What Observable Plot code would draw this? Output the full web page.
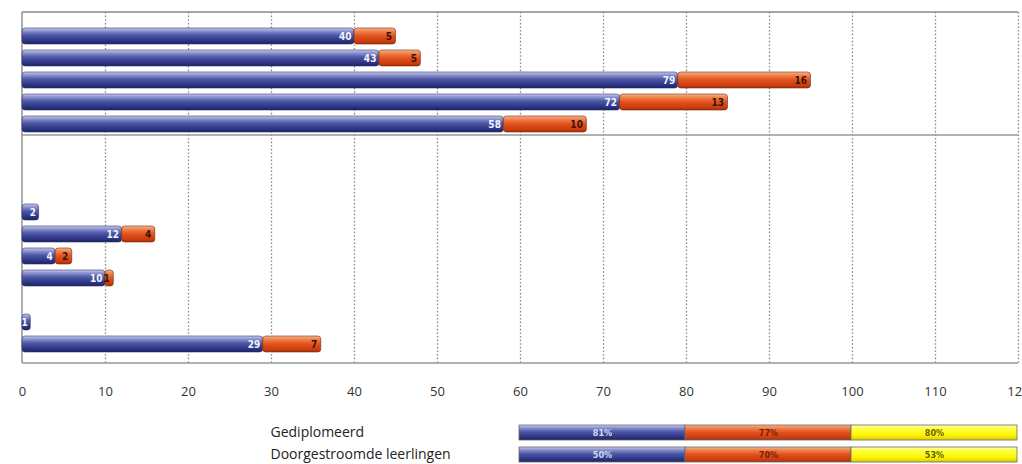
<!DOCTYPE html>
<html><head><meta charset="utf-8">
<script src="https://cdn.jsdelivr.net/npm/d3@7"></script>
<script src="https://cdn.jsdelivr.net/npm/@observablehq/plot@0.6"></script>
<style>
html,body{margin:0;padding:0;background:#fff;overflow:hidden}
#chart{width:1022px}
#chart svg{display:block}
</style></head><body><div id="chart"></div>
<script>
// ---- data ----
const rows = ["r1","r2","r3","r4","r5","r6","r7","r8","r9","r10","r11","r12","r13","r14","r15"];
const seriesBlauw  = [40, 43, 79, 72, 58, null, null, null, 2, 12, 4, 10, null, 1, 29];
const seriesOranje = [5, 5, 16, 13, 10, null, null, null, 0, 4, 2, 1, null, 0, 7];
const dividerAfter = "r5";
const xTicks = [0,10,20,30,40,50,60,70,80,90,100,110,120];

const legendRows = ["Gediplomeerd", "Doorgestroomde leerlingen"];
const legendCols = ["blauw", "oranje", "geel"];
const legendPct = [[81, 77, 80], [50, 70, 53]];

// ---- derived tables ----
const blueRecs = rows.map((r,i)=>({row:r, x1:0, x2:seriesBlauw[i], v:seriesBlauw[i]})).filter(d=>d.v!=null);
const orangeRecs = rows.map((r,i)=>({row:r, x1:seriesBlauw[i], x2:(seriesBlauw[i]||0)+(seriesOranje[i]||0), v:seriesOranje[i]})).filter(d=>d.v);
const legendData = legendRows.flatMap((r,i)=>legendCols.map((c,j)=>({row:r, col:c, pct:legendPct[i][j]})));

function gradDefs(prefix){
  return () => {
    const defs = d3.create("svg:defs");
    const mk = (id, stops) => {
      const g = defs.append("linearGradient").attr("id", prefix+id).attr("x1",0).attr("y1",0).attr("x2",0).attr("y2",1);
      stops.forEach(([o,c])=>g.append("stop").attr("offset",o).attr("stop-color",c));
    };
    mk("blue", [[0,"#c9cdee"],[0.18,"#8d95cf"],[0.45,"#4d57a4"],[0.8,"#2c3584"],[1,"#1c2263"]]);
    mk("orange", [[0,"#f7b68a"],[0.2,"#ef8450"],[0.5,"#e2521c"],[0.85,"#c93c10"],[1,"#a52e0a"]]);
    mk("yellow", [[0,"#ffffb0"],[0.25,"#ffff40"],[0.7,"#fdf500"],[1,"#d8cc00"]]);
    return defs.node();
  };
}

const condensed = "'DejaVu Sans Condensed','Liberation Sans Narrow','DejaVu Sans',sans-serif";

// frame lines and divider drawn from the scales
const frameMark = (index, scales, values, dims) => {
  const g = d3.create("svg:g").attr("fill","none");
  const x0 = scales.x(0), x1 = scales.x(120);
  const top = dims.marginTop, bot = dims.height - dims.marginBottom;
  const y = scales.y;
  const bw = y.bandwidth ? y.bandwidth() : 0;
  const iA = rows.indexOf(dividerAfter);
  const yDiv = (y(rows[iA]) + bw + y(rows[iA+1])) / 2;
  g.append("line").attr("x1",x0).attr("x2",x1).attr("y1",top).attr("y2",top).attr("stroke","#8a8a8a").attr("stroke-width",1.6);
  g.append("line").attr("x1",x0).attr("x2",x1).attr("y1",bot).attr("y2",bot).attr("stroke","#999").attr("stroke-width",1.4);
  g.append("line").attr("x1",x0).attr("x2",x0).attr("y1",top).attr("y2",bot).attr("stroke","#8a8a8a").attr("stroke-width",1.4);
  g.append("line").attr("x1",x0).attr("x2",x1).attr("y1",yDiv).attr("y2",yDiv).attr("stroke","#999").attr("stroke-width",1.4);
  return g.node();
};

const main = Plot.plot({
  width: 1022, height: 402,
  marginLeft: 22, marginRight: 4, marginTop: 12, marginBottom: 39,
  x: {domain: [0,120], ticks: xTicks, tickSize: 0, tickPadding: 23, label: null},
  y: {domain: rows, paddingInner: 0.26, paddingOuter: 0.5, align: 0.6, axis: null},
  style: {fontFamily: "'Open Sans',sans-serif", fontSize: "13px", color: "#333", background: "#fff"},
  marks: [
    gradDefs("m"),
    Plot.ruleX(xTicks.slice(1), {stroke: "#8a8a8a", strokeWidth: 1.3, strokeDasharray: "1.6,2"}),
    frameMark,
    Plot.barX(blueRecs, {x1: "x1", x2: "x2", y: "row", fill: "url(#mblue)", stroke: "#2f3468", strokeWidth: 0.6, rx: 3}),
    Plot.barX(orangeRecs, {x1: "x1", x2: "x2", y: "row", fill: "url(#morange)", stroke: "#7a2a0c", strokeWidth: 0.6, rx: 3}),
    Plot.text(blueRecs, {x: "x2", y: "row", text: d => d.v, textAnchor: "end", dx: -3, fill: "#f2f3ff", fontWeight: "bold", fontSize: 10, fontFamily: condensed}),
    Plot.text(orangeRecs, {x: "x2", y: "row", text: d => d.v, textAnchor: "end", dx: -4, fill: "#3a1505", fontWeight: "bold", fontSize: 10, fontFamily: condensed})
  ]
});

const legendFill = {blauw: "url(#lblue)", oranje: "url(#lorange)", geel: "url(#lyellow)"};
const legendText = {blauw: "#d6d9f2", oranje: "#7a1e05", geel: "#6a6000"};

const legend = Plot.plot({
  width: 1022, height: 65,
  marginLeft: 519, marginRight: 5, marginTop: 17, marginBottom: 0,
  x: {domain: legendCols, axis: null, padding: 0},
  y: {domain: legendRows, paddingInner: 0.34, paddingOuter: 0.25, label: null},
  style: {fontFamily: "'Open Sans',sans-serif", fontSize: "14px", color: "#222", background: "#fff"},
  marks: [
    gradDefs("l"),
    Plot.axisY({anchor: "left", tickSize: 0, tickPadding: 249, textAnchor: "start", label: null, fontSize: 14}),
    ...legendCols.map(c => Plot.cell(legendData.filter(d => d.col === c), {x: "col", y: "row", fill: legendFill[c], stroke: "#6a6a6a", strokeWidth: 0.8})),
    Plot.text(legendData, {x: "col", y: "row", text: d => d.pct + "%", fill: d => legendText[d.col], fontWeight: "bold", fontSize: 9, fontFamily: condensed})
  ],
  color: {type: "identity"}
});

document.getElementById("chart").append(main, legend);
</script></body></html>
